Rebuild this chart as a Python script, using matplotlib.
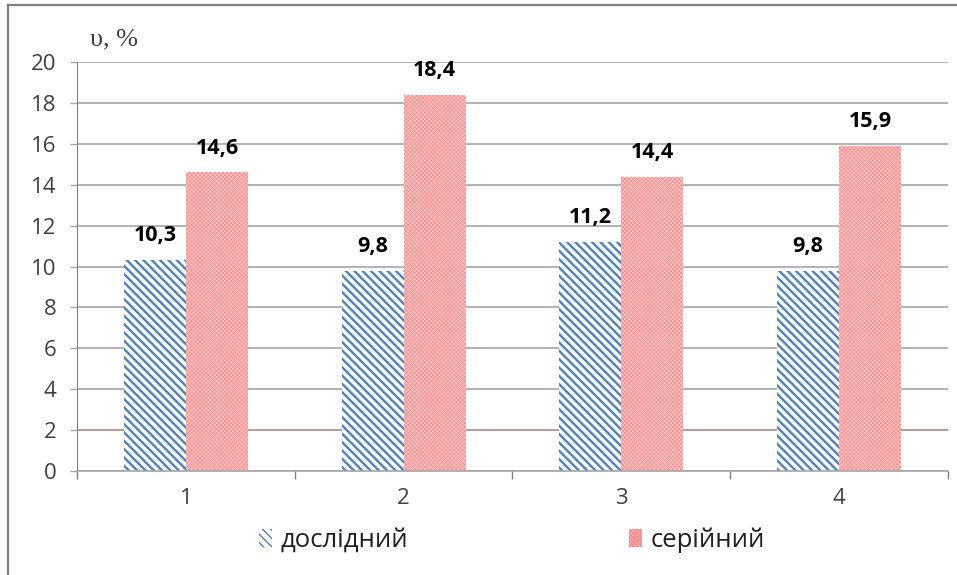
import matplotlib.pyplot as plt
from matplotlib.patches import Patch
from matplotlib.lines import Line2D
import numpy as np

categories = ['1', '2', '3', '4']
doslidnyi = [10.3, 9.8, 11.2, 9.8]
seriinyi = [14.6, 18.4, 14.4, 15.9]
yticks = [0, 2, 4, 6, 8, 10, 12, 14, 16, 18, 20]

plt.rcParams['font.family'] = ['Open Sans', 'DejaVu Sans']

blue = '#4f81bd'
red_face = '#fbc2c2'
red_hatch = '#f38e8e'
grid_c = '#a6a6a6'
text_c = '#404040'

fig = plt.figure(figsize=(9.57, 5.75), dpi=100)
ax = fig.add_axes([0.0805, 0.181, 0.91, 0.711])

x = np.arange(len(categories))
w = 0.285

with plt.rc_context({'hatch.linewidth': 1.7}):
    b1 = ax.bar(x - w / 2, doslidnyi, w, color='white', edgecolor=blue,
                hatch='\\\\\\\\', linewidth=0, zorder=2)
with plt.rc_context({'hatch.linewidth': 0.5}):
    b2 = ax.bar(x + w / 2, seriinyi, w, color=red_face, edgecolor=red_hatch,
                hatch='xxxxxxxx', linewidth=0, zorder=2)

for bars, vals in ((b1, doslidnyi), (b2, seriinyi)):
    for r, v in zip(bars, vals):
        ax.annotate(f'{v:.1f}'.replace('.', ','),
                    (r.get_x() + r.get_width() / 2, v),
                    xytext=(0, 10), textcoords='offset points',
                    ha='center', va='bottom', fontsize=15.5, fontweight='bold',
                    color='black')

ax.set_xlim(-0.5, len(categories) - 0.5)
ax.set_ylim(0, 20)
ax.set_yticks(yticks)
ax.set_yticklabels([str(t) for t in yticks])
ax.set_xticks(x)
ax.set_xticklabels(categories)
ax.tick_params(axis='x', length=0, pad=12, labelsize=16, labelcolor=text_c)
ax.tick_params(axis='y', length=5, width=1, color=grid_c, pad=10,
               labelsize=16, labelcolor=text_c)
ax.set_xticks(np.arange(-0.5, len(categories)), minor=True)
ax.tick_params(axis='x', which='minor', length=6, width=1, color='#808080')

ax.grid(axis='y', color=grid_c, linewidth=1.2)
ax.set_axisbelow(True)
ax.get_ygridlines()[1].set_color('#a88a80')

for s in ('top', 'right'):
    ax.spines[s].set_visible(False)
ax.spines['left'].set_color('#808080')
ax.spines['bottom'].set_color(grid_c)
ax.spines['bottom'].set_linewidth(1.2)

fig.text(0.094, 0.932, 'υ, %', family='Liberation Serif', fontsize=19,
         color=text_c, va='center', ha='left')

# outer frame of the figure block
fig.add_artist(Line2D([8 / 957, 8 / 957], [0, 1 - 5 / 575],
                      transform=fig.transFigure, color='#7f7f7f', lw=1.6))
fig.add_artist(Line2D([8 / 957, 1], [1 - 5 / 575, 1 - 5 / 575],
                      transform=fig.transFigure, color='#7f7f7f', lw=1.6))

with plt.rc_context({'hatch.linewidth': 1.7}):
    h1 = Patch(facecolor='white', edgecolor=blue, hatch='\\\\\\\\', linewidth=0)
with plt.rc_context({'hatch.linewidth': 0.5}):
    h2 = Patch(facecolor=red_face, edgecolor=red_hatch, hatch='xxxxxxxx', linewidth=0)
fig.legend([h1, h2], ['дослідний', 'серійний'], loc='center',
           bbox_to_anchor=(512 / 957, 0.061), ncol=2, frameon=False,
           fontsize=18.5, labelcolor='#202020', handlelength=0.5, handleheight=0.7,
           handletextpad=0.35, columnspacing=8.6)

fig.savefig('out.png', dpi=100)
